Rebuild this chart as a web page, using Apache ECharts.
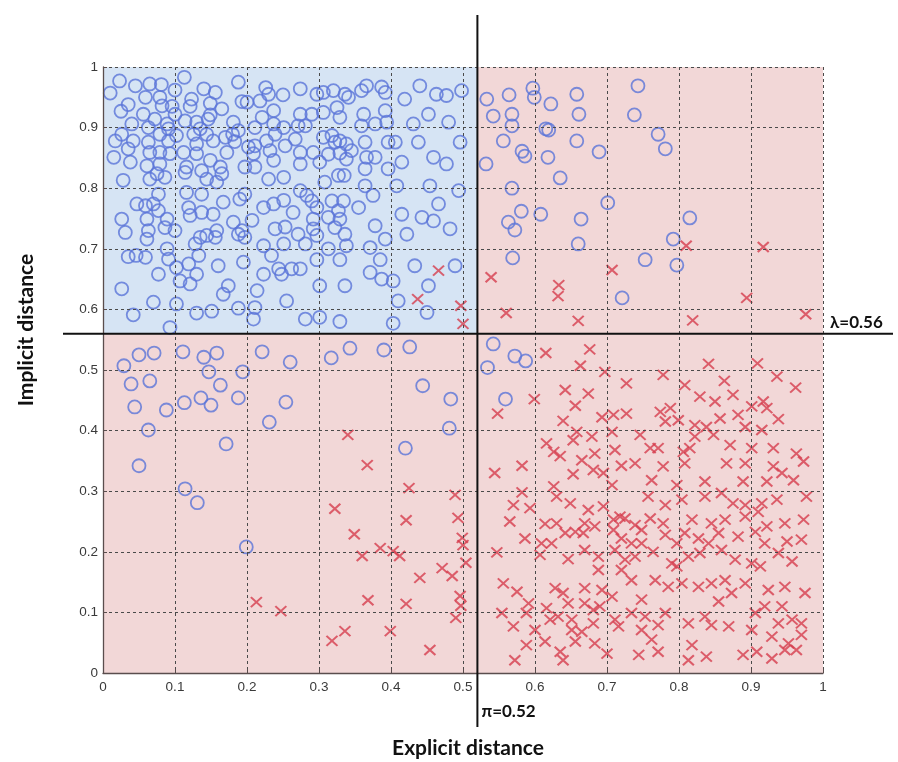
<!DOCTYPE html>
<html>
<head>
<meta charset="utf-8">
<script src="https://cdn.jsdelivr.net/npm/echarts@6/dist/echarts.min.js"></script>
<style>
  html, body { margin: 0; padding: 0; background: #ffffff; }
  #chart { width: 898px; height: 762px; }
</style>
</head>
<body>
<div id="chart"></div>
<script>
// Axis tick labels (both axes run 0..1 in steps of 0.1)
const tickLabels = ['0', '0.1', '0.2', '0.3', '0.4', '0.5', '0.6', '0.7', '0.8', '0.9', '1'];

// Decision thresholds
const piThreshold = 0.52;      // explicit distance
const lambdaThreshold = 0.56;  // implicit distance

// Samples drawn as hollow circles, [explicit, implicit]
const circlesUpperLeft = [
  [0.023,0.977],[0.010,0.957],[0.045,0.969],[0.065,0.972],[0.081,0.971],[0.113,0.983],[0.100,0.962],[0.140,0.964],[0.156,0.958],[0.188,0.975],[0.226,0.966],[0.230,0.955],[0.250,0.954],
  [0.035,0.938],[0.025,0.927],[0.059,0.950],[0.079,0.950],[0.082,0.936],[0.096,0.935],[0.100,0.922],[0.123,0.947],[0.121,0.935],[0.149,0.940],[0.165,0.931],[0.149,0.921],[0.146,0.914],[0.193,0.943],[0.200,0.942],[0.218,0.944],[0.237,0.928],[0.221,0.917],[0.056,0.922],[0.072,0.914],[0.040,0.906],[0.063,0.900],[0.089,0.906],[0.091,0.898],[0.114,0.911],[0.130,0.909],[0.135,0.898],[0.181,0.909],[0.188,0.895],[0.211,0.900],[0.237,0.906],[0.251,0.900],
  [0.017,0.878],[0.015,0.851],[0.026,0.889],[0.042,0.878],[0.035,0.865],[0.038,0.843],[0.063,0.876],[0.079,0.889],[0.079,0.859],[0.065,0.859],[0.091,0.878],[0.102,0.887],[0.093,0.857],[0.112,0.859],[0.126,0.889],[0.130,0.873],[0.130,0.857],[0.144,0.889],[0.153,0.878],[0.170,0.884],[0.180,0.889],[0.183,0.877],[0.172,0.859],[0.149,0.846],[0.163,0.835],[0.165,0.824],[0.158,0.810],[0.137,0.829],[0.144,0.815],[0.116,0.835],[0.114,0.826],[0.061,0.837],[0.079,0.840],[0.086,0.818],[0.075,0.824],[0.065,0.815],[0.028,0.813],[0.197,0.835],[0.211,0.870],[0.211,0.835],[0.227,0.878],[0.232,0.862],[0.239,0.889],[0.237,0.846],[0.253,0.870],[0.251,0.818],[0.230,0.815],[0.202,0.868],[0.209,0.857],
  [0.047,0.774],[0.026,0.749],[0.031,0.727],[0.059,0.771],[0.070,0.774],[0.077,0.763],[0.077,0.790],[0.089,0.749],[0.086,0.735],[0.100,0.730],[0.061,0.749],[0.063,0.730],[0.061,0.716],[0.116,0.793],[0.119,0.768],[0.121,0.755],[0.137,0.760],[0.137,0.790],[0.153,0.757],[0.167,0.777],[0.158,0.730],[0.156,0.719],[0.135,0.719],[0.128,0.708],[0.144,0.722],[0.181,0.744],[0.188,0.724],[0.193,0.730],[0.197,0.719],[0.197,0.790],[0.190,0.782],[0.207,0.747],[0.223,0.768],[0.237,0.774],[0.251,0.780],[0.239,0.733],[0.253,0.736],[0.223,0.705],[0.251,0.708],
  [0.035,0.687],[0.046,0.689],[0.059,0.686],[0.089,0.700],[0.091,0.683],[0.077,0.658],[0.102,0.669],[0.107,0.647],[0.121,0.642],[0.119,0.675],[0.133,0.689],[0.130,0.658],[0.160,0.672],[0.195,0.678],[0.223,0.658],[0.234,0.689],[0.244,0.667],[0.248,0.658],[0.026,0.634],[0.174,0.639],[0.167,0.625],[0.214,0.631],
  [0.070,0.612],[0.102,0.609],[0.042,0.591],[0.093,0.570],[0.130,0.594],[0.151,0.597],[0.188,0.602],[0.211,0.603],[0.209,0.584],[0.255,0.614],
  [0.274,0.964],[0.297,0.955],[0.306,0.958],[0.320,0.961],[0.336,0.955],[0.341,0.950],[0.359,0.961],[0.366,0.969],[0.387,0.967],[0.392,0.958],[0.419,0.947],[0.440,0.969],[0.463,0.955],[0.477,0.953],[0.498,0.961],[0.274,0.922],[0.290,0.922],[0.306,0.925],[0.325,0.933],[0.329,0.917],[0.362,0.922],[0.359,0.903],[0.378,0.906],[0.392,0.928],[0.394,0.909],[0.431,0.906],[0.452,0.922],[0.480,0.909],[0.271,0.903],[0.281,0.903],
  [0.267,0.881],[0.274,0.859],[0.274,0.840],[0.292,0.859],[0.301,0.843],[0.306,0.884],[0.318,0.887],[0.322,0.876],[0.329,0.878],[0.338,0.873],[0.345,0.862],[0.338,0.848],[0.313,0.856],[0.329,0.858],[0.364,0.876],[0.366,0.851],[0.378,0.851],[0.364,0.832],[0.396,0.876],[0.406,0.876],[0.396,0.832],[0.415,0.843],[0.438,0.876],[0.459,0.851],[0.477,0.840],[0.496,0.876],[0.308,0.810],[0.327,0.821],[0.335,0.821],[0.364,0.804],
  [0.274,0.796],[0.283,0.788],[0.290,0.779],[0.297,0.768],[0.264,0.760],[0.292,0.749],[0.292,0.733],[0.313,0.752],[0.318,0.779],[0.334,0.779],[0.327,0.763],[0.329,0.749],[0.322,0.735],[0.336,0.724],[0.355,0.768],[0.375,0.788],[0.378,0.738],[0.392,0.716],[0.408,0.804],[0.415,0.757],[0.422,0.724],[0.443,0.752],[0.459,0.746],[0.466,0.774],[0.454,0.804],[0.482,0.733],[0.494,0.796],[0.271,0.724],[0.281,0.708],[0.297,0.722],[0.313,0.700],[0.338,0.705],[0.371,0.702],
  [0.262,0.667],[0.274,0.667],[0.297,0.682],[0.329,0.682],[0.385,0.682],[0.371,0.661],[0.387,0.650],[0.403,0.647],[0.433,0.672],[0.489,0.672],[0.452,0.639],[0.301,0.639],[0.336,0.639],[0.410,0.614],
  [0.281,0.584],[0.301,0.587],[0.329,0.580],[0.403,0.577],[0.450,0.595]
];
const circlesUpperRight = [
  [0.533,0.947],[0.542,0.919],[0.564,0.954],[0.568,0.922],[0.568,0.903],[0.556,0.878],[0.532,0.840],[0.582,0.861],[0.586,0.853],
  [0.597,0.965],[0.599,0.950],[0.622,0.939],[0.615,0.898],[0.619,0.896],[0.658,0.955],[0.661,0.922],[0.618,0.851],[0.635,0.817],
  [0.658,0.878],[0.689,0.860],[0.743,0.969],[0.738,0.921],[0.771,0.889],[0.781,0.865],[0.568,0.800],[0.581,0.762],[0.608,0.757],
  [0.664,0.749],[0.701,0.776],[0.660,0.708],[0.563,0.744],[0.572,0.731],[0.792,0.716],[0.753,0.682],[0.797,0.673],[0.721,0.619],
  [0.569,0.685],[0.815,0.751]
];
const circlesLowerLeft = [
  [0.029,0.507],[0.050,0.525],[0.071,0.528],[0.039,0.477],[0.065,0.482],[0.044,0.439],[0.063,0.401],[0.050,0.342],
  [0.111,0.530],[0.140,0.521],[0.158,0.528],[0.147,0.497],[0.194,0.497],[0.221,0.530],[0.260,0.513],[0.317,0.520],
  [0.343,0.536],[0.390,0.533],[0.426,0.538],[0.444,0.474],[0.481,0.404],[0.483,0.452],[0.088,0.434],[0.113,0.446],
  [0.136,0.454],[0.150,0.442],[0.163,0.475],[0.188,0.454],[0.171,0.378],[0.231,0.414],[0.254,0.447],[0.114,0.304],
  [0.131,0.281],[0.199,0.208],[0.420,0.371]
];
const circlesLowerRight = [
  [0.542,0.543],[0.572,0.523],[0.587,0.515],[0.534,0.504],[0.559,0.452]
];

// Samples drawn as crosses, [explicit, implicit]
const crossesUpperLeft = [
  [0.466,0.664],[0.437,0.617],[0.497,0.606],[0.500,0.576]
];
const crossesUpperRight = [
  [0.539,0.653],[0.560,0.594],[0.633,0.640],[0.632,0.622],[0.660,0.581],[0.707,0.665],[0.819,0.582],[0.810,0.705],
  [0.917,0.703],[0.894,0.619],[0.976,0.592]
];
const crossesLowerLeft = [
  [0.340,0.393],[0.367,0.343],[0.322,0.271],[0.349,0.229],[0.360,0.193],[0.385,0.206],[0.403,0.201],[0.412,0.193],
  [0.421,0.252],[0.425,0.305],[0.489,0.294],[0.493,0.256],[0.499,0.223],[0.500,0.211],[0.504,0.182],[0.471,0.173],
  [0.440,0.157],[0.485,0.160],[0.496,0.127],[0.497,0.111],[0.490,0.091],[0.421,0.114],[0.368,0.120],[0.399,0.069],
  [0.336,0.069],[0.318,0.053],[0.247,0.102],[0.213,0.117],[0.454,0.038]
];
const crossesLowerRight = [
  [0.615,0.528],[0.676,0.534],[0.663,0.507],[0.697,0.497],[0.727,0.478],[0.642,0.467],[0.674,0.461],[0.656,0.441],
  [0.599,0.452],[0.548,0.428],[0.639,0.416],[0.693,0.422],[0.709,0.426],[0.727,0.428],[0.658,0.398],[0.679,0.390],
  [0.707,0.398],[0.746,0.393],[0.616,0.379],[0.626,0.365],[0.635,0.358],[0.653,0.384],[0.665,0.351],[0.683,0.362],
  [0.711,0.368],[0.544,0.330],[0.582,0.342],[0.653,0.328],[0.681,0.335],[0.695,0.330],[0.720,0.342],[0.739,0.346],
  [0.707,0.310],[0.582,0.298],[0.570,0.277],[0.593,0.272],[0.626,0.308],[0.630,0.291],[0.649,0.280],[0.674,0.269],
  [0.695,0.275],[0.565,0.250],[0.614,0.246],[0.630,0.247],[0.656,0.233],[0.667,0.231],[0.586,0.222],[0.609,0.214],
  [0.623,0.214],[0.642,0.231],[0.669,0.247],[0.683,0.242],[0.709,0.253],[0.718,0.258],[0.725,0.255],[0.739,0.244],
  [0.748,0.236],[0.709,0.236],[0.720,0.222],[0.734,0.214],[0.748,0.214],[0.547,0.199],[0.607,0.195],[0.646,0.188],
  [0.669,0.203],[0.688,0.192],[0.711,0.203],[0.725,0.187],[0.739,0.192],[0.688,0.170],[0.720,0.170],[0.734,0.153],
  [0.556,0.148],[0.575,0.134],[0.591,0.115],[0.588,0.099],[0.628,0.140],[0.639,0.132],[0.646,0.115],[0.669,0.140],
  [0.693,0.137],[0.707,0.126],[0.690,0.110],[0.681,0.104],[0.669,0.115],[0.554,0.099],[0.570,0.077],[0.616,0.107],
  [0.621,0.088],[0.632,0.093],[0.651,0.088],[0.651,0.071],[0.665,0.068],[0.656,0.052],[0.681,0.082],[0.683,0.049],
  [0.711,0.088],[0.716,0.077],[0.734,0.099],[0.748,0.121],[0.748,0.071],[0.600,0.071],[0.614,0.052],[0.588,0.046],
  [0.572,0.021],[0.635,0.035],[0.639,0.021],[0.700,0.032],[0.744,0.030],[0.753,0.093],
  [0.841,0.510],[0.909,0.511],[0.778,0.492],[0.808,0.475],[0.863,0.482],[0.936,0.489],[0.962,0.471],[0.829,0.456],
  [0.850,0.448],[0.875,0.459],[0.788,0.437],[0.774,0.431],[0.901,0.440],[0.917,0.448],[0.922,0.437],[0.882,0.426],
  [0.938,0.419],[0.799,0.417],[0.822,0.409],[0.781,0.415],[0.838,0.406],[0.892,0.406],[0.915,0.401],[0.857,0.420],
  [0.760,0.371],[0.771,0.371],[0.806,0.365],[0.815,0.371],[0.822,0.390],[0.848,0.393],[0.871,0.376],[0.901,0.371],
  [0.931,0.371],[0.963,0.362],[0.973,0.349],[0.778,0.341],[0.808,0.346],[0.866,0.346],[0.892,0.346],[0.931,0.341],
  [0.943,0.330],[0.959,0.318],[0.922,0.316],[0.762,0.318],[0.797,0.310],[0.836,0.316],[0.889,0.316],[0.804,0.286],
  [0.836,0.291],[0.859,0.297],[0.875,0.280],[0.892,0.277],[0.915,0.280],[0.936,0.286],[0.977,0.291],[0.760,0.255],
  [0.778,0.247],[0.818,0.253],[0.845,0.247],[0.864,0.253],[0.892,0.258],[0.910,0.266],[0.922,0.242],[0.947,0.247],
  [0.973,0.253],[0.781,0.228],[0.808,0.231],[0.797,0.214],[0.827,0.222],[0.841,0.214],[0.855,0.231],[0.882,0.225],
  [0.906,0.233],[0.919,0.214],[0.950,0.217],[0.970,0.220],[0.764,0.200],[0.790,0.181],[0.813,0.192],[0.829,0.198],
  [0.859,0.203],[0.878,0.187],[0.901,0.181],[0.913,0.176],[0.938,0.198],[0.957,0.184],[0.767,0.153],[0.785,0.142],
  [0.804,0.148],[0.827,0.142],[0.845,0.148],[0.864,0.153],[0.892,0.148],[0.873,0.132],[0.855,0.118],[0.924,0.137],
  [0.947,0.142],[0.975,0.132],[0.943,0.110],[0.781,0.099],[0.771,0.079],[0.813,0.082],[0.836,0.093],[0.845,0.079],
  [0.869,0.077],[0.906,0.099],[0.919,0.110],[0.938,0.082],[0.957,0.088],[0.970,0.082],[0.901,0.071],[0.929,0.060],
  [0.952,0.049],[0.963,0.038],[0.947,0.038],[0.970,0.063],[0.762,0.055],[0.771,0.035],[0.818,0.046],[0.813,0.021],
  [0.838,0.027],[0.889,0.030],[0.908,0.035],[0.929,0.024],[0.797,0.176],[0.781,0.277],[0.757,0.291]
];

const circleSamples = [].concat(circlesUpperLeft, circlesUpperRight, circlesLowerLeft, circlesLowerRight);
const crossSamples = [].concat(crossesUpperLeft, crossesUpperRight, crossesLowerLeft, crossesLowerRight);

const axisFont = 'Liberation Sans, Arial, sans-serif';
const titleFont = 'Lato, "Open Sans", sans-serif';
const gridLineStyle = { color: '#4a4a4a', type: [3, 3], width: 1 };
const tickFormatter = (v) => tickLabels[Math.round(v * 10)];

function valueAxis(labelMargin) {
  return {
    type: 'value',
    min: 0,
    max: 1,
    interval: 0.1,
    z: 3,
    axisLine: { show: true, onZero: false, lineStyle: { color: '#5a4d4d', width: 1.3 } },
    axisTick: { show: true, inside: true, length: 4, lineStyle: { color: '#5a4d4d' } },
    axisLabel: { color: '#3a3a3a', fontSize: 13.5, fontFamily: axisFont, margin: labelMargin, formatter: tickFormatter },
    splitLine: { show: true, lineStyle: gridLineStyle }
  };
}

const chart = echarts.init(document.getElementById('chart'), null, { renderer: 'canvas' });

chart.setOption({
  animation: false,
  backgroundColor: '#ffffff',
  grid: {
    left: 103, right: 75, top: 67, bottom: 89,
    show: true, backgroundColor: '#f2d7d7', borderWidth: 0
  },
  xAxis: valueAxis(7),
  yAxis: valueAxis(5),
  series: [
    {
      // region where both distances pass their thresholds
      type: 'scatter',
      data: [],
      silent: true,
      markArea: {
        silent: true,
        itemStyle: { color: '#d6e4f4' },
        data: [[{ coord: [0, lambdaThreshold] }, { coord: [piThreshold, 1] }]]
      }
    },
    {
      name: 'circle',
      type: 'scatter',
      symbol: 'circle',
      symbolSize: 13,
      itemStyle: { color: 'rgba(0,0,0,0)', borderColor: '#5a74d8', borderWidth: 1.8 },
      data: circleSamples
    },
    {
      name: 'cross',
      type: 'scatter',
      symbol: 'path://M0,0L10,10M10,0L0,10',
      symbolSize: [11, 10],
      itemStyle: { color: 'none', borderColor: '#d63d4e', borderWidth: 2 },
      data: crossSamples
    }
  ]
});

// Threshold lines reach past the plot frame; place them from the data scale.
const corner = chart.convertToPixel({ gridIndex: 0 }, [piThreshold, lambdaThreshold]);
const px = corner[0], py = corner[1];

chart.setOption({
  graphic: [
    { type: 'line', z: 100, shape: { x1: px, y1: 15, x2: px, y2: 727 },
      style: { stroke: '#111111', lineWidth: 2 } },
    { type: 'line', z: 100, shape: { x1: 63, y1: py, x2: 893, y2: py },
      style: { stroke: '#111111', lineWidth: 2 } },
    { type: 'text', z: 100, x: px + 4, y: 712,
      style: { text: 'π=0.52', font: 'bold 17px ' + titleFont, fill: '#111111', verticalAlign: 'middle' } },
    { type: 'text', z: 100, x: 830, y: py - 11,
      style: { text: 'λ=0.56', font: 'bold 17px ' + titleFont, fill: '#111111', verticalAlign: 'middle' } },
    { type: 'text', z: 100, x: 468, y: 748,
      style: { text: 'Explicit distance', font: 'bold 21px ' + titleFont, fill: '#111111',
        align: 'center', verticalAlign: 'middle' } },
    { type: 'text', z: 100, x: 26, y: 330, rotation: Math.PI / 2,
      style: { text: 'Implicit distance', font: 'bold 21px ' + titleFont, fill: '#111111',
        align: 'center', verticalAlign: 'middle' } }
  ]
});
</script>
</body>
</html>
